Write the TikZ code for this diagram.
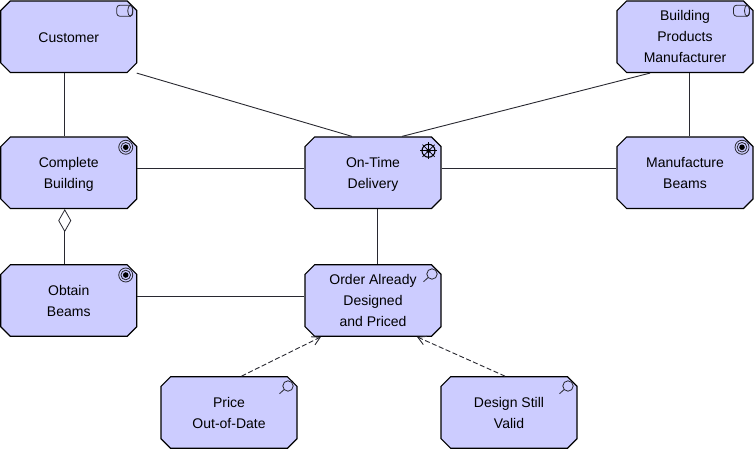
\documentclass[tikz,border=0pt]{standalone}
\usepackage{fontspec}
\setmainfont{Liberation Sans}
\usetikzlibrary{shapes.misc}
\usetikzlibrary{arrows,arrows.meta}
\definecolor{boxfill}{RGB}{204,204,255}
\definecolor{inkgray}{RGB}{40,40,48}
\tikzset{
  element/.style={chamfered rectangle,chamfered rectangle xsep=4.8pt,chamfered rectangle ysep=4.8pt,
    draw=black,line width=1.2pt,fill=boxfill,minimum width=136pt,minimum height=71.5pt,inner sep=0pt,
    align=center,font=\fontsize{14}{21}\selectfont,text=black,text depth=0pt},
  textdrop/.style={execute at begin node={\rule{0pt}{#1}}},
  link/.style={draw=inkgray,line width=0.9pt},
  assoc/.style={link,dashed,dash pattern=on 5pt off 2.5pt,-{Straight Barb[length=8pt,width=9pt]}},
  whole/.style={link,{Diamond[open,length=23pt,width=13pt,line width=0.8pt]}-},
  iconline/.style={draw=inkgray,line width=0.8pt},
  rolemark/.pic={
    \draw[iconline,rounded corners=3pt] (-8,-5.5) rectangle (8,5.5);
    \draw[iconline] (5.5,0) ellipse (2.5 and 5.5);
  },
  goalmark/.pic={
    \draw[iconline] (0,0) circle (7);
    \draw[iconline] (0,0) circle (4.8);
    \fill[black] (0,0) circle (2.8);
  },
  drivermark/.pic={
    \draw[black,line width=1.1pt] (0,0) circle (6.5);
    \foreach \ang in {0,45,...,315}
      \draw[black,line width=0.7pt] (\ang:1) -- (\ang:8.5);
    \fill[black] (0,0) circle (2.2);
  },
  findmark/.pic={
    \draw[iconline] (0,0) circle (5.2);
    \draw[iconline] (-3.8,3.5) -- (-8.5,7.7);
  },
}
\begin{document}
\begin{tikzpicture}[x=1pt,y=-1pt]
  \useasboundingbox (0,0) rectangle (754,449);

  \pgfmathsetmacro\colA{68.75}
  \pgfmathsetmacro\colB{373}
  \pgfmathsetmacro\colC{685}
  \pgfmathsetmacro\rowA{36.75}
  \pgfmathsetmacro\rowB{172.75}
  \pgfmathsetmacro\rowC{300.5}
  \pgfmathsetmacro\rowD{412.5}

% elements
  \node[element,textdrop=12pt] (customer) at (\colA,\rowA) {Customer};
  \node[element,textdrop=12pt] (complete) at (\colA,\rowB) {Complete\\Building};
  \node[element,textdrop=14pt] (obtain) at (\colA,\rowC) {Obtain\\Beams};
  \node[element,textdrop=12pt] (ontime) at (\colB,\rowB) {On-Time\\Delivery};
  \node[element] (order) at (\colB,\rowC) {Order Already\\Designed\\and Priced};
  \node[element] (producer) at (\colC,\rowA) {Building\\Products\\Manufacturer};
  \node[element,textdrop=12pt] (manufacture) at (\colC,\rowB) {Manufacture\\Beams};
  \node[element] (price) at (229,\rowD) {Price\\Out-of-Date};
  \node[element] (design) at (509,\rowD) {Design Still\\Valid};

% icons at top right
  \pic at ([shift={(56,-26)}]customer.center) {rolemark};
  \pic at ([shift={(56.5,-26)}]producer.center) {rolemark};
  \pic at ([shift={(57,-25.5)}]complete.center) {goalmark};
  \pic at ([shift={(57,-25.5)}]obtain.center) {goalmark};
  \pic at ([shift={(57,-25.5)}]manufacture.center) {goalmark};
  \pic at ([shift={(55.5,-22)}]ontime.center) {drivermark};
  \pic at ([shift={(59,-26.5)}]order.center) {findmark};
  \pic at ([shift={(59,-26.5)}]price.center) {findmark};
  \pic at ([shift={(59,-26.5)}]design.center) {findmark};

% connectors
  \draw[link] ([xshift=-4pt]customer.south) -- ([xshift=-4pt]complete.north);
  \draw[whole] ([xshift=-4pt]complete.south) -- ([xshift=-4pt]obtain.north);
  \draw[link] ([yshift=4pt]complete.east) -- ([yshift=4pt]ontime.west);
  \draw[link] ([yshift=4pt]ontime.east) -- ([yshift=4pt]manufacture.west);
  \draw[link] ([yshift=4pt]obtain.east) -- ([yshift=4pt]order.west);
  \draw[link] ([xshift=4pt]ontime.south) -- ([xshift=4pt]order.north);
  \draw[link] ([xshift=4pt]producer.south) -- ([xshift=4pt]manufacture.north);
  \draw[link] ([xshift=68pt]customer.south) -- ([xshift=-21pt]ontime.north);
  \draw[link] ([xshift=-35pt]producer.south) -- ([xshift=29pt]ontime.north);
  \draw[assoc] ([xshift=12.5pt]price.north) -- ([xshift=-52pt]order.south);
  \draw[assoc] ([xshift=-4pt]design.north) -- ([xshift=44pt]order.south);

\end{tikzpicture}
\end{document}
